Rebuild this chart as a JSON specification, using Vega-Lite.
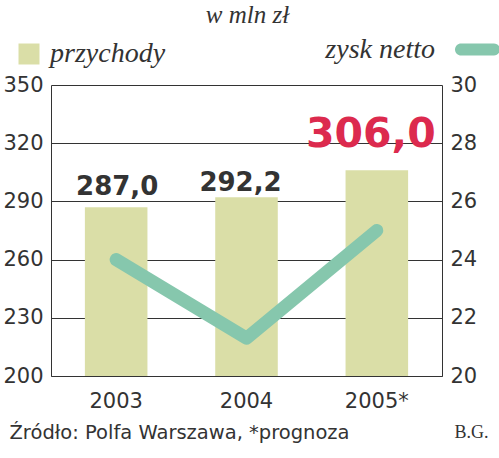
{
  "$schema": "https://vega.github.io/schema/vega-lite/v6.json",
  "width": 391,
  "height": 291,
  "autosize": "none",
  "padding": {"left": 51, "top": 85, "right": 57, "bottom": 82},
  "background": "white",
  "config": {
    "view": {"stroke": null},
    "axis": {"labelFont": "DejaVu Sans", "labelFontSize": 21, "labelColor": "#333333", "domainColor": "#333333", "gridColor": "#333333", "gridWidth": 1, "ticks": false},
    "legend": {"padding": 0, "labelFont": "Liberation Serif", "labelFontStyle": "italic", "labelFontSize": 28, "labelColor": "#333333"}
  },
  "data": {
    "values": [
      {"year": "2003", "przychody": 287.0, "zysk": 24.0, "label": "287,0"},
      {"year": "2004", "przychody": 292.2, "zysk": 21.3, "label": "292,2"},
      {"year": "2005*", "przychody": 306.0, "zysk": 25.0, "label": "306,0"}
    ]
  },
  "encoding": {
    "x": {
      "field": "year", "type": "nominal", "sort": null,
      "scale": {"paddingInner": 0.52, "paddingOuter": 0.26},
      "axis": {
        "labelAngle": 0, "labelPadding": 14, "domain": true,
        "title": "Źródło: Polfa Warszawa, *prognoza",
        "titleFont": "DejaVu Sans", "titleFontSize": 19.5, "titleFontWeight": "normal", "titleColor": "#333333",
        "titleAnchor": "start", "titleAlign": "left", "titleBaseline": "alphabetic",
        "titleX": -42, "titleY": 62
      }
    }
  },
  "layer": [
    {
      "encoding": {
        "y": {
          "field": "przychody", "type": "quantitative",
          "scale": {"domain": [200, 350], "zero": false, "nice": false},
          "axis": {
            "values": [200, 230, 260, 290, 320, 350], "grid": true, "labelPadding": 8,
            "title": "w mln zł", "titleAngle": 0, "titleX": 196, "titleY": -63,
            "titleAlign": "center", "titleBaseline": "alphabetic",
            "titleFont": "Liberation Serif", "titleFontStyle": "italic", "titleFontWeight": "normal",
            "titleFontSize": 25, "titleColor": "#333333"
          }
        }
      },
      "layer": [
        {
          "mark": {"type": "bar"},
          "encoding": {
            "y2": {"datum": 200},
            "fill": {
              "datum": "przychody", "type": "nominal",
              "scale": {"range": ["#dadea7"]},
              "legend": {
                "title": null, "orient": "none", "legendX": -36, "legendY": -45,
                "symbolType": "square", "symbolSize": 441, "symbolStrokeWidth": 0, "labelOffset": 7
              }
            }
          }
        },
        {
          "transform": [{"filter": "datum.year === '2003'"}],
          "mark": {"type": "text", "font": "DejaVu Sans", "fontWeight": "bold", "baseline": "alphabetic", "align": "center", "fontSize": 26, "color": "#333333", "dx": 1, "dy": -12},
          "encoding": {"text": {"field": "label"}}
        },
        {
          "transform": [{"filter": "datum.year === '2004'"}],
          "mark": {"type": "text", "font": "DejaVu Sans", "fontWeight": "bold", "baseline": "alphabetic", "align": "center", "fontSize": 26, "color": "#333333", "dx": -6, "dy": -6},
          "encoding": {"text": {"field": "label"}}
        },
        {
          "transform": [{"filter": "datum.year === '2005*'"}],
          "mark": {"type": "text", "font": "DejaVu Sans", "fontWeight": "bold", "baseline": "alphabetic", "align": "center", "fontSize": 41, "color": "#dc2a4e", "dx": -6, "dy": -23},
          "encoding": {"text": {"field": "label"}}
        }
      ]
    },
    {
      "mark": {"type": "line", "strokeWidth": 13, "strokeCap": "round", "strokeJoin": "round"},
      "encoding": {
        "y": {
          "field": "zysk", "type": "quantitative",
          "scale": {"domain": [20, 30], "zero": false, "nice": false},
          "axis": {
            "orient": "right", "values": [20, 22, 24, 26, 28, 30], "grid": false, "labelPadding": 8,
            "title": "B.G.", "titleAngle": 0, "titleX": 12, "titleY": 352,
            "titleAlign": "left", "titleBaseline": "alphabetic",
            "titleFont": "Liberation Serif", "titleFontWeight": "normal", "titleFontSize": 18, "titleColor": "#333333"
          }
        },
        "stroke": {
          "datum": "zysk netto", "type": "nominal",
          "scale": {"range": ["#86c7ad"]},
          "legend": {
            "title": null, "orient": "none", "legendX": 404, "legendY": -58,
            "symbolType": "M-0.73,-0.27L0.73,-0.27A0.27,0.27 0 0 1 0.73,0.27L-0.73,0.27A0.27,0.27 0 0 1 -0.73,-0.27Z",
            "symbolSize": 2025, "symbolStrokeWidth": 0, "symbolFillColor": "#86c7ad",
            "labelAlign": "right", "labelOffset": -65
          }
        }
      }
    }
  ],
  "resolve": {"scale": {"y": "independent", "fill": "independent", "stroke": "independent"}}
}
